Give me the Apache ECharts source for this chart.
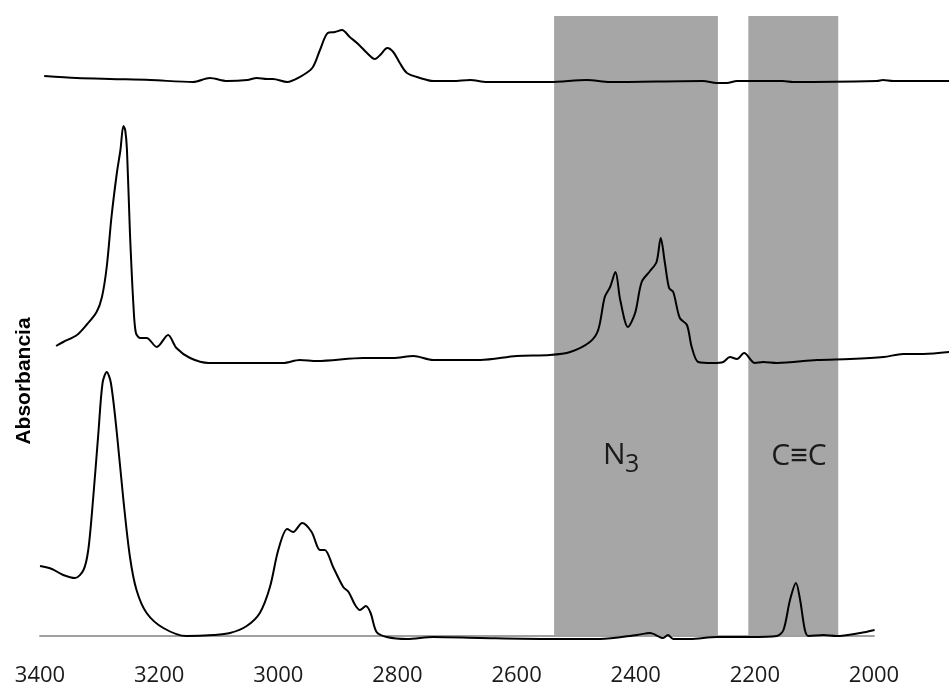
<!DOCTYPE html>
<html>
<head>
<meta charset="utf-8">
<script src="https://cdn.jsdelivr.net/npm/echarts@6/dist/echarts.min.js"></script>
<style>
  html, body { margin: 0; padding: 0; background: #ffffff; }
  #chart { width: 949px; height: 687px; }
</style>
</head>
<body>
<div id="chart"></div>
<script>
// IR spectra, stacked with vertical offsets (wavenumber cm-1, absorbance a.u.)
const topWavenumber = [3393, 3338, 3282, 3215, 3143, 3115, 3086, 3052, 3036, 3019, 3009, 2985, 2964, 2943, 2930, 2917, 2905, 2893, 2880, 2866, 2851, 2838, 2829, 2817, 2807, 2796, 2784, 2762, 2740, 2707, 2678, 2650, 2544, 2482, 2443, 2287, 2264, 2247, 2230, 2153, 2136, 1995, 1985, 1968, 1874];
const topAbs = [5.61, 5.59, 5.58, 5.57, 5.55, 5.59, 5.56, 5.57, 5.59, 5.58, 5.58, 5.55, 5.60, 5.69, 5.87, 6.04, 6.05, 6.07, 6.00, 5.93, 5.84, 5.78, 5.82, 5.89, 5.85, 5.74, 5.64, 5.59, 5.56, 5.56, 5.57, 5.55, 5.55, 5.57, 5.55, 5.56, 5.54, 5.54, 5.56, 5.56, 5.55, 5.56, 5.57, 5.56, 5.56];

const midWavenumber = [3373, 3361, 3338, 3322, 3305, 3296, 3288, 3280, 3271, 3265, 3260, 3257, 3254, 3249, 3243, 3239, 3232, 3221, 3204, 3185, 3171, 3148, 3117, 3076, 2992, 2964, 2935, 2857, 2807, 2773, 2740, 2661, 2600, 2544, 2510, 2477, 2463, 2452, 2443, 2434, 2426, 2413, 2401, 2390, 2376, 2365, 2358, 2351, 2344, 2337, 2326, 2314, 2306, 2295, 2270, 2253, 2242, 2230, 2218, 2200, 2186, 2163, 2096, 2040, 1984, 1951, 1917, 1874];
const midAbs = [2.91, 2.95, 3.02, 3.12, 3.25, 3.40, 3.70, 4.20, 4.64, 4.87, 5.11, 5.07, 4.87, 4.04, 3.30, 3.04, 2.99, 2.99, 2.90, 3.02, 2.89, 2.79, 2.74, 2.74, 2.74, 2.77, 2.76, 2.79, 2.79, 2.81, 2.77, 2.77, 2.81, 2.82, 2.85, 2.95, 3.07, 3.40, 3.50, 3.65, 3.37, 3.10, 3.24, 3.55, 3.66, 3.75, 3.99, 3.74, 3.49, 3.45, 3.19, 3.12, 2.90, 2.75, 2.74, 2.75, 2.80, 2.78, 2.84, 2.74, 2.75, 2.74, 2.77, 2.78, 2.80, 2.83, 2.83, 2.85];

const botWavenumber = [3400, 3380, 3361, 3341, 3327, 3319, 3311, 3302, 3295, 3288, 3281, 3271, 3260, 3249, 3238, 3221, 3193, 3154, 3109, 3081, 3053, 3031, 3014, 3000, 2985, 2975, 2960, 2944, 2930, 2922, 2908, 2891, 2882, 2871, 2863, 2853, 2845, 2835, 2818, 2784, 2740, 2661, 2544, 2460, 2398, 2376, 2354, 2346, 2337, 2309, 2264, 2208, 2163, 2152, 2141, 2131, 2124, 2116, 2110, 2085, 2063, 2023, 1999];
const botAbs = [0.71, 0.68, 0.62, 0.59, 0.67, 0.87, 1.37, 2.04, 2.54, 2.65, 2.54, 2.04, 1.37, 0.80, 0.47, 0.24, 0.09, 0.01, 0.02, 0.04, 0.11, 0.24, 0.50, 0.87, 1.08, 1.05, 1.14, 1.05, 0.87, 0.87, 0.70, 0.50, 0.45, 0.32, 0.27, 0.31, 0.24, 0.05, 0.00, -0.02, 0.00, -0.01, -0.02, -0.02, 0.02, 0.04, -0.01, 0.02, -0.02, -0.02, 0.00, 0.00, 0.01, 0.07, 0.37, 0.54, 0.37, 0.07, 0.01, 0.02, 0.01, 0.04, 0.07];

// Highlighted absorption regions
const bandNames = ['N3', 'C≡C'];
const bandRanges = [[2537, 2262], [2211, 2060]];

// Axis ticks
const tickMin = 2000, tickMax = 3400, tickStep = 200;

function pairs(xs, ys) { return xs.map((x, i) => [x, ys[i]]); }

const chart = echarts.init(document.getElementById('chart'), null, { renderer: 'canvas' });

const lineStyle = { color: '#000000', width: 2 };

function spectrum(name, xs, ys) {
  return {
    name: name,
    type: 'line',
    xAxisIndex: 1,
    yAxisIndex: 1,
    data: pairs(xs, ys),
    symbol: 'none',
    smooth: 0.3,
    clip: false,
    lineStyle: lineStyle,
    z: 5,
    silent: true
  };
}

// The spectra run past the last tick to the right edge, so they sit on a
// hidden axis that keeps the same cm-1 per pixel as the labelled one.
const chartWidth = 949, plotLeft = 40, plotRight = 75;
const pxPerUnit = (chartWidth - plotLeft - plotRight) / (tickMax - tickMin);
const traceMin = tickMax - (chartWidth - plotLeft) / pxPerUnit;

chart.setOption({
  animation: false,
  backgroundColor: '#ffffff',
  grid: [
    { left: plotLeft, right: plotRight, top: 16, bottom: 50 },
    { left: plotLeft, right: 0, top: 16, bottom: 0 }
  ],
  xAxis: [
    {
      type: 'value',
      gridIndex: 0,
      inverse: true,
      min: tickMin,
      max: tickMax,
      interval: tickStep,
      axisLine: { show: true, lineStyle: { color: '#a0a0a0', width: 2 } },
      axisTick: { show: false },
      splitLine: { show: false },
      axisLabel: {
        margin: 29,
        fontFamily: 'Open Sans',
        fontSize: 22,
        color: '#1a1a1a',
        formatter: (v) => String(v)
      },
      z: 3
    },
    {
      type: 'value',
      gridIndex: 1,
      inverse: true,
      min: traceMin,
      max: tickMax,
      show: false
    }
  ],
  yAxis: [
    { type: 'value', gridIndex: 0, min: 0, max: 6.21, show: false },
    { type: 'value', gridIndex: 1, min: -0.5, max: 6.21, show: false }
  ],
  series: [
    {
      name: 'bands',
      type: 'line',
      xAxisIndex: 0,
      yAxisIndex: 0,
      data: [],
      silent: true,
      markArea: {
        silent: true,
        itemStyle: { color: '#a6a6a6' },
        label: { show: false },
        data: bandRanges.map((r, i) => [
          { name: bandNames[i], xAxis: r[0] },
          { xAxis: r[1] }
        ])
      },
      z: 1
    },
    spectrum('top', topWavenumber, topAbs),
    spectrum('middle', midWavenumber, midAbs),
    spectrum('bottom', botWavenumber, botAbs)
  ],
  graphic: [
    {
      type: 'text',
      x: 24,
      y: 381,
      rotation: Math.PI / 2,
      style: {
        text: 'Absorbancia',
        font: 'bold 21px "Liberation Sans", Arial, sans-serif',
        fill: '#000000',
        align: 'center',
        verticalAlign: 'middle'
      },
      z: 10
    },
    {
      type: 'text',
      x: 603,
      y: 455,
      style: {
        text: 'N',
        font: '30px "Open Sans", sans-serif',
        fill: '#1a1a1a',
        align: 'left',
        verticalAlign: 'middle'
      },
      z: 10
    },
    {
      type: 'text',
      x: 625,
      y: 465,
      style: {
        text: '3',
        font: '25px "Open Sans", sans-serif',
        fill: '#1a1a1a',
        align: 'left',
        verticalAlign: 'middle'
      },
      z: 10
    },
    {
      type: 'text',
      x: 799,
      y: 456,
      style: {
        text: 'C≡C',
        font: '30px "Open Sans", sans-serif',
        fill: '#1a1a1a',
        align: 'center',
        verticalAlign: 'middle'
      },
      z: 10
    }
  ]
});
</script>
</body>
</html>
